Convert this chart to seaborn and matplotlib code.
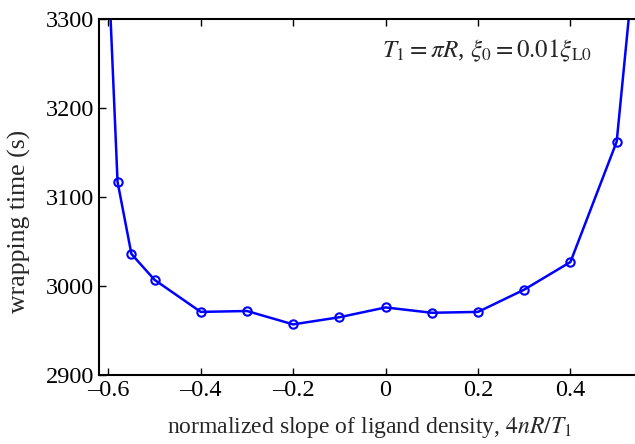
import numpy as np
import pandas as pd
import matplotlib
matplotlib.use("Agg")
import matplotlib.pyplot as plt
import seaborn as sns

# data
slope = [-0.60, -0.58, -0.55, -0.50, -0.40, -0.30, -0.20, -0.10, 0.00, 0.10, 0.20, 0.30, 0.40, 0.50, 0.55]
wrap_time = [3360, 3117, 3036, 3007, 2971, 2972, 2957, 2965, 2976, 2970, 2971, 2996, 3027, 3162, 3427]
xticks = [-0.6, -0.4, -0.2, 0, 0.2, 0.4]
xtick_labels = ["\u20130.6", "\u20130.4", "\u20130.2", "0", "0.2", "0.4"]
yticks = [2900, 3000, 3100, 3200, 3300]

df = pd.DataFrame({"slope": slope, "time": wrap_time})

sns.set_style("ticks")
plt.rcParams["font.family"] = ["Liberation Serif", "DejaVu Serif"]
plt.rcParams["mathtext.fontset"] = "stix"

fig = plt.figure(figsize=(6.35, 4.44), dpi=100)
# right edge of the axes sits just past the figure edge, as in the cropped original
ax = fig.add_axes([0.156, 0.155, 0.853, 0.803])

sns.lineplot(data=df, x="slope", y="time", sort=False, ax=ax, color="#0000ff",
             linewidth=1.8, marker="o", markersize=6, markerfacecolor="none",
             markeredgecolor="#0000ff", markeredgewidth=1.5)

ax.set_xlim(-0.62, 0.552)
ax.set_ylim(2900, 3300)
ax.set_xticks(xticks)
ax.set_xticklabels(xtick_labels)
ax.set_yticks(yticks)
ax.tick_params(direction="in", length=5, width=1, labelsize=17.5, top=True, right=False, colors="black")
for s in ax.spines.values():
    s.set_linewidth(1.5)
    s.set_color("black")

ax.set_xlabel(r"normalized slope of ligand density, $4nR/T_1$", fontsize=17, labelpad=10)
ax.set_ylabel("wrapping time (s)", fontsize=18.5)
ax.yaxis.set_label_coords(-0.125, 0.43)
ax.text(0.911, 0.91, r"$T_1 = \pi R$, $\xi_0 = 0.01\xi_{\rm L0}$", transform=ax.transAxes,
        ha="right", va="center", fontsize=18)

fig.savefig("out.png", dpi=100)
